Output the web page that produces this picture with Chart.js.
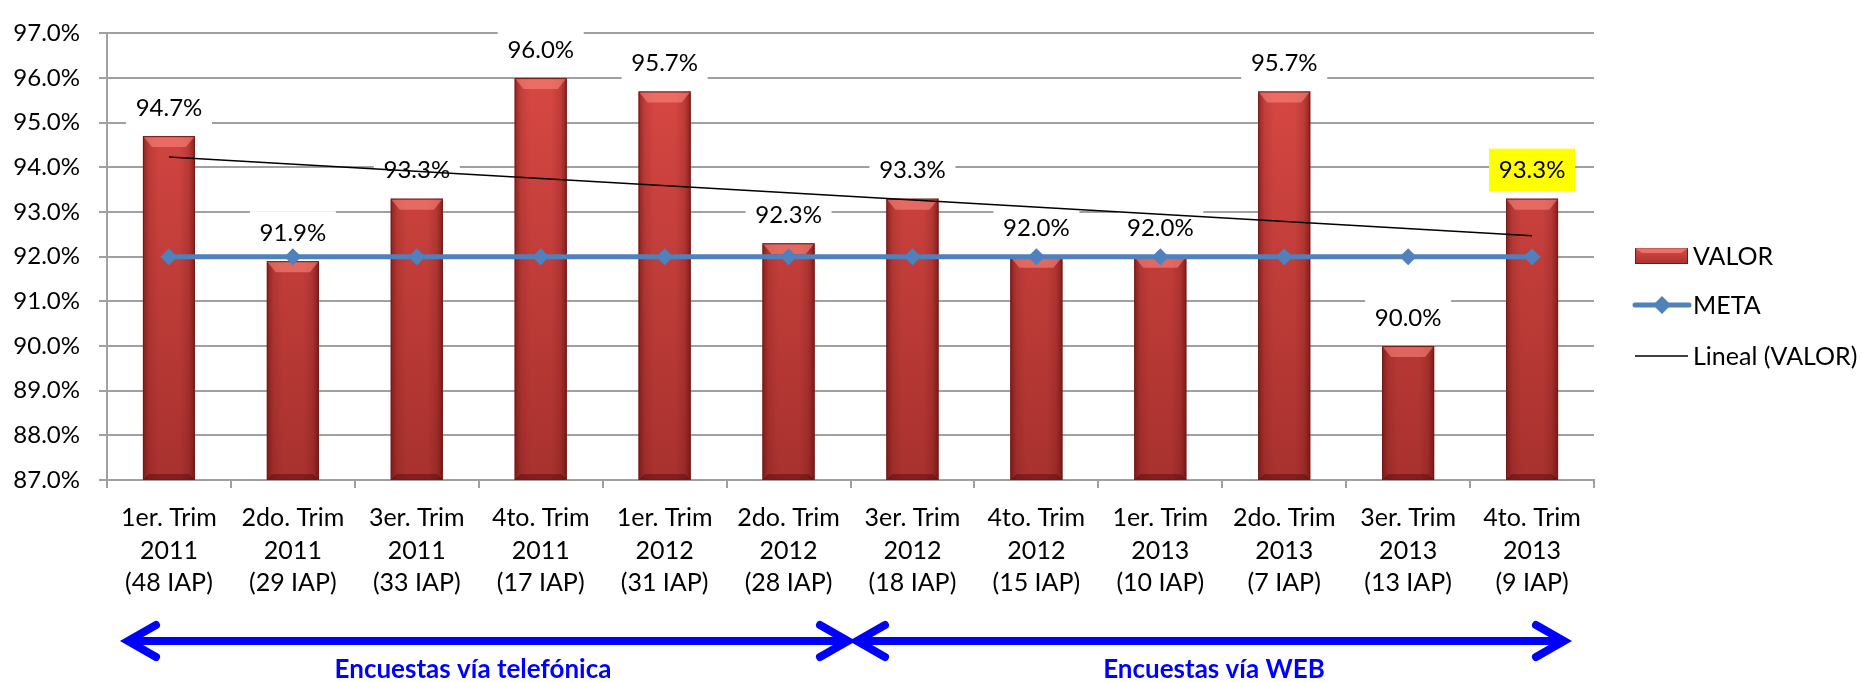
<!DOCTYPE html>
<html><head><meta charset="utf-8">
<script src="https://cdn.jsdelivr.net/npm/chart.js@4.4.0/dist/chart.umd.min.js"></script>
<style>html,body{margin:0;padding:0;background:#fff}#wrap{width:1862px;height:682px}</style>
</head><body><div id="wrap"><canvas id="c" width="1862" height="682"></canvas></div>
<script>
const categories = [
  ['1er. Trim','2011','(48 IAP)'],
  ['2do. Trim','2011','(29 IAP)'],
  ['3er. Trim','2011','(33 IAP)'],
  ['4to. Trim','2011','(17 IAP)'],
  ['1er. Trim','2012','(31 IAP)'],
  ['2do. Trim','2012','(28 IAP)'],
  ['3er. Trim','2012','(18 IAP)'],
  ['4to. Trim','2012','(15 IAP)'],
  ['1er. Trim','2013','(10 IAP)'],
  ['2do. Trim','2013','(7 IAP)'],
  ['3er. Trim','2013','(13 IAP)'],
  ['4to. Trim','2013','(9 IAP)']
];
const valor = [94.7, 91.9, 93.3, 96.0, 95.7, 92.3, 93.3, 92.0, 92.0, 95.7, 90.0, 93.3];
const meta  = [92, 92, 92, 92, 92, 92, 92, 92, 92, 92, 92, 92];
const trend = [94.23, null, null, null, null, null, null, null, null, null, null, 92.47];
const yMin = 87, yMax = 97, yStep = 1;
const highlightIndex = 11;
const seriesNames = ['VALOR', 'META', 'Lineal (VALOR)'];
const groupLabels = ['Encuestas vía telefónica', 'Encuestas vía WEB'];

const FONT = 'Lato, "Open Sans", sans-serif';
const GRID = '#A0A0A0';
const BLUE = '#4F81BD';

function barGradient(ctx2d, top, bottom) {
  const g = ctx2d.createLinearGradient(0, top, 0, bottom);
  g.addColorStop(0, '#DC4A45');
  g.addColorStop(1, '#A8312E');
  return g;
}

const barDecor = {
  id: 'barDecor',
  afterDatasetDraw(chart, args) {
    if (args.index !== 0) return;
    const ctx = chart.ctx;
    const meta0 = chart.getDatasetMeta(0);
    const b = chart.scales.y.getPixelForValue(yMin);
    ctx.save();
    meta0.data.forEach((el, i) => {
      const w = el.width, l = el.x - w / 2, r = el.x + w / 2, t = el.y;
      const hg = ctx.createLinearGradient(l, 0, r, 0);
      hg.addColorStop(0, 'rgba(70,0,0,0.45)');
      hg.addColorStop(0.12, 'rgba(70,0,0,0.12)');
      hg.addColorStop(0.3, 'rgba(70,0,0,0)');
      hg.addColorStop(0.7, 'rgba(70,0,0,0)');
      hg.addColorStop(0.88, 'rgba(70,0,0,0.15)');
      hg.addColorStop(1, 'rgba(70,0,0,0.5)');
      ctx.fillStyle = hg;
      ctx.fillRect(l, t, w, b - t);
      ctx.beginPath();
      ctx.moveTo(l, t); ctx.lineTo(r, t); ctx.lineTo(r - 9, t + 11); ctx.lineTo(l + 9, t + 11); ctx.closePath();
      ctx.fillStyle = 'rgba(255,140,130,0.55)';
      ctx.fill();
      ctx.beginPath();
      ctx.moveTo(l, b); ctx.lineTo(r, b); ctx.lineTo(r - 6, b - 6); ctx.lineTo(l + 6, b - 6); ctx.closePath();
      ctx.fillStyle = 'rgba(60,0,0,0.35)';
      ctx.fill();
      ctx.strokeStyle = '#6E1C1A';
      ctx.lineWidth = 1;
      ctx.strokeRect(l + 0.5, t + 0.5, w - 1, b - t - 1);
    });
    ctx.font = '24px ' + FONT;
    ctx.textAlign = 'center';
    ctx.textBaseline = 'middle';
    meta0.data.forEach((el, i) => {
      const cy = el.y - 29;
      ctx.fillStyle = i === highlightIndex ? '#FFFF00' : '#FFFFFF';
      ctx.fillRect(el.x - 43, cy - 21, 86, 43);
      ctx.fillStyle = '#000';
      ctx.fillText(valor[i].toFixed(1) + '%', el.x, cy + 1);
    });
    ctx.restore();
  },
  afterDraw(chart) {
    const ctx = chart.ctx;
    ctx.save();
    const lx = 1635, lw = 53, tx = 1693;
    ctx.fillStyle = barGradient(ctx, 248, 264);
    ctx.fillRect(lx, 248, lw, 16);
    ctx.strokeStyle = '#6E1C1A'; ctx.lineWidth = 1;
    ctx.strokeRect(lx + 0.5, 248.5, lw - 1, 15);
    ctx.beginPath(); ctx.moveTo(lx, 248); ctx.lineTo(lx + lw, 248); ctx.lineTo(lx + lw - 7, 253); ctx.lineTo(lx + 7, 253); ctx.closePath();
    ctx.fillStyle = 'rgba(255,140,130,0.6)'; ctx.fill();
    ctx.strokeStyle = BLUE; ctx.lineWidth = 5; ctx.lineCap = 'round';
    ctx.beginPath(); ctx.moveTo(lx, 305); ctx.lineTo(lx + lw + 1, 305); ctx.stroke();
    ctx.fillStyle = BLUE;
    ctx.beginPath(); ctx.moveTo(lx + 27, 296); ctx.lineTo(lx + 36, 305); ctx.lineTo(lx + 27, 314); ctx.lineTo(lx + 18, 305); ctx.closePath(); ctx.fill();
    ctx.strokeStyle = '#000'; ctx.lineWidth = 1.5; ctx.lineCap = 'butt';
    ctx.beginPath(); ctx.moveTo(lx, 356); ctx.lineTo(lx + lw, 356); ctx.stroke();
    ctx.fillStyle = '#000';
    ctx.font = '25px ' + FONT;
    ctx.textAlign = 'left'; ctx.textBaseline = 'middle';
    ctx.fillText(seriesNames[0], tx, 257);
    ctx.fillText(seriesNames[1], tx, 306);
    ctx.fillText(seriesNames[2], tx, 357);
    function arrow(x1, x2, y) {
      ctx.strokeStyle = '#0000FF'; ctx.lineWidth = 8; ctx.lineCap = 'butt';
      ctx.beginPath(); ctx.moveTo(x1 + 4, y); ctx.lineTo(x2 - 4, y); ctx.stroke();
      ctx.lineWidth = 8; ctx.lineCap = 'round'; ctx.lineJoin = 'miter'; ctx.miterLimit = 10;
      ctx.beginPath(); ctx.moveTo(x1 + 32, y - 16); ctx.lineTo(x1 + 4, y); ctx.lineTo(x1 + 32, y + 16); ctx.stroke();
      ctx.beginPath(); ctx.moveTo(x2 - 32, y - 16); ctx.lineTo(x2 - 4, y); ctx.lineTo(x2 - 32, y + 16); ctx.stroke();
    }
    arrow(124, 852, 641);
    arrow(853, 1568, 641);
    ctx.fillStyle = '#0000FF';
    ctx.font = 'bold 26px ' + FONT;
    ctx.textAlign = 'center';
    ctx.fillText(groupLabels[0], 473, 670);
    ctx.fillText(groupLabels[1], 1214, 670);
    ctx.restore();
  }
};

new Chart(document.getElementById('c'), {
  data: {
    labels: categories,
    datasets: [
      {
        type: 'bar', label: seriesNames[0], data: valor, order: 3,
        backgroundColor: (c) => {
          const a = c.chart.chartArea;
          if (!a) return '#C0504D';
          return barGradient(c.chart.ctx, a.top, a.bottom);
        },
        borderWidth: 0,
        barPercentage: 0.42, categoryPercentage: 1.0
      },
      {
        type: 'line', label: seriesNames[1], data: meta, order: 2,
        borderColor: BLUE, borderWidth: 5, backgroundColor: BLUE,
        pointStyle: 'rectRot', pointRadius: 8.5, pointBackgroundColor: BLUE, pointBorderWidth: 0,
        tension: 0, fill: false
      },
      {
        type: 'line', label: seriesNames[2], data: trend, order: 1, spanGaps: true,
        borderColor: '#000', borderWidth: 1.5, pointRadius: 0, tension: 0, fill: false
      }
    ]
  },
  options: {
    responsive: false, animation: false,
    layout: { padding: { left: 0, top: 23, right: 268, bottom: 0 } },
    plugins: { legend: { display: false }, tooltip: { enabled: false } },
    scales: {
      x: {
        type: 'category', offset: true,
        grid: { offset: true, drawOnChartArea: false, color: GRID, lineWidth: 2, tickLength: 8 },
        border: { color: GRID, width: 2 },
        ticks: { color: '#000', font: { family: FONT, size: 25, lineHeight: 1.3 }, padding: 14, maxRotation: 0, autoSkip: false },
        afterFit(s) { s.height = 202; }
      },
      y: {
        min: yMin, max: yMax,
        grid: { color: GRID, lineWidth: 2, tickLength: 8 },
        border: { color: GRID, width: 2 },
        ticks: { stepSize: yStep, color: '#000', font: { family: FONT, size: 24 }, padding: 19,
          callback: (v) => v.toFixed(1) + '%' },
        afterFit(s) { s.width = 107; }
      }
    }
  },
  plugins: [barDecor]
});
</script>
</body></html>
